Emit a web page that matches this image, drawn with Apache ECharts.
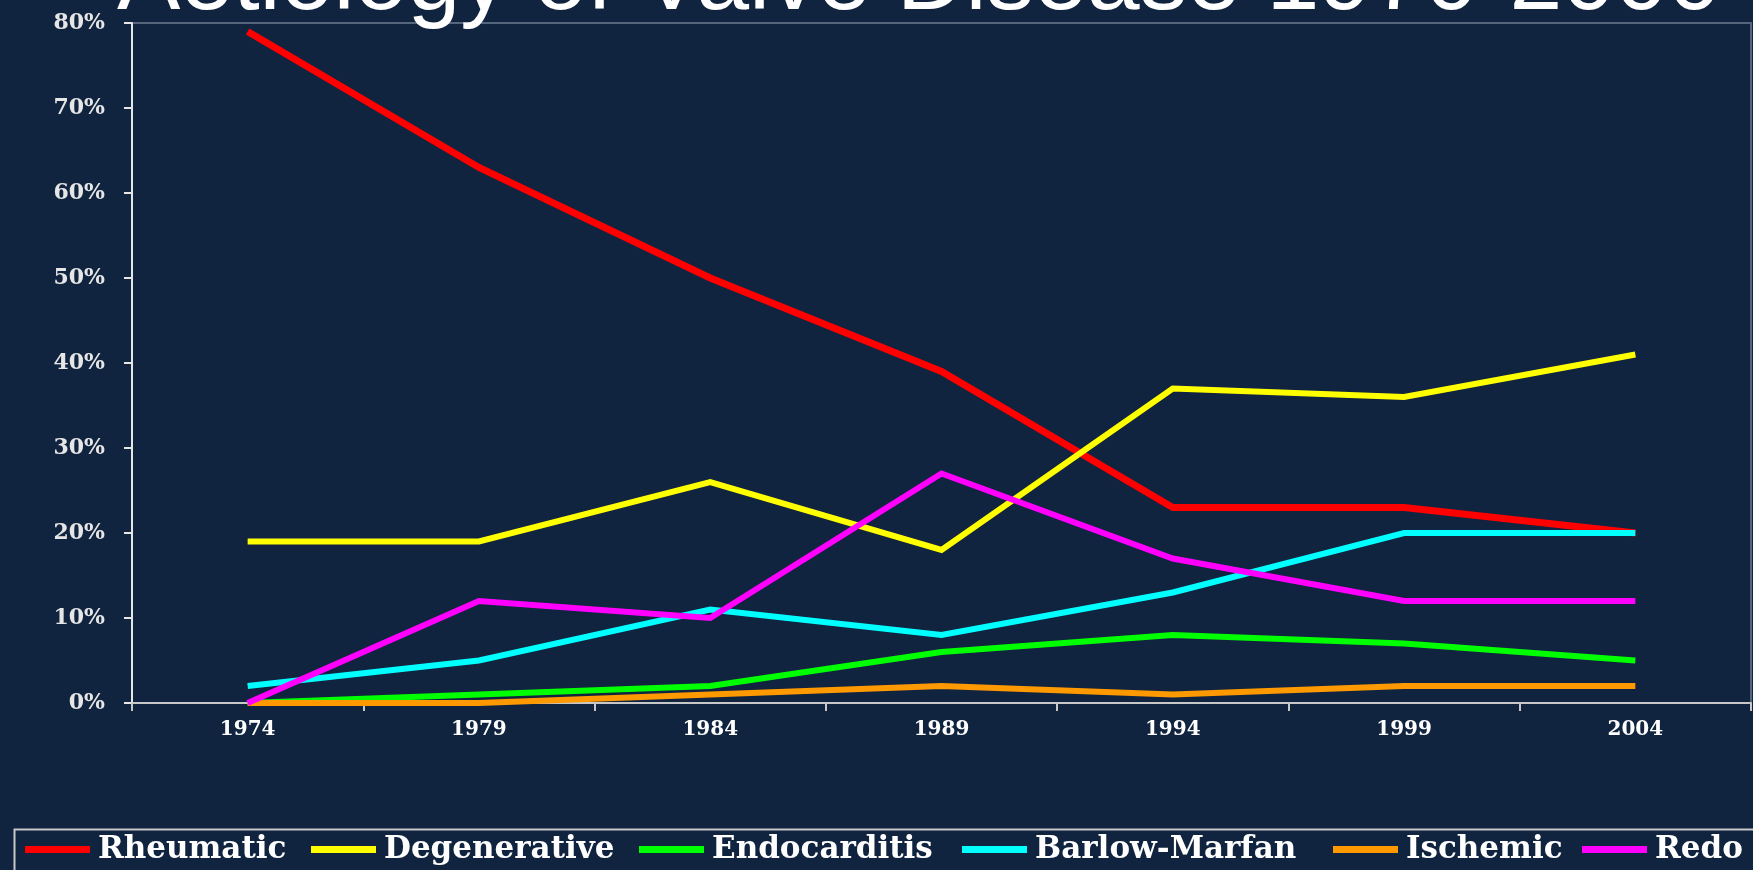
<!DOCTYPE html>
<html><head><meta charset="utf-8">
<script src="https://cdn.jsdelivr.net/npm/echarts@6/dist/echarts.min.js"></script>
<style>html,body{margin:0;padding:0;background:#10233f;}#c{width:1753px;height:870px;}</style>
</head><body><div id="c"></div>
<script>
var titleText = 'Aetiology of Valve Disease 1970-2000';
var years = ['1974','1979','1984','1989','1994','1999','2004'];
var yTicks = [0,10,20,30,40,50,60,70,80];
var seriesNames = ['Rheumatic','Degenerative','Endocarditis','Barlow-Marfan','Ischemic','Redo'];
var seriesColors = ['#ff0000','#ffff00','#00ff00','#00ffff','#ff9900','#ff00ff'];
var rheumatic    = [79, 63, 50, 39, 23, 23, 20];
var degenerative = [19, 19, 26, 18, 37, 36, 41];
var endocarditis = [0, 1, 2, 6, 8, 7, 5];
var barlowMarfan = [2, 5, 11, 8, 13, 20, 20];
var ischemic     = [0, 0, 1, 2, 1, 2, 2];
var redo         = [0, 12, 10, 27, 17, 12, 12];
var allData = [rheumatic, degenerative, endocarditis, barlowMarfan, ischemic, redo];
var legendLeft = [25, 311, 639, 962, 1333, 1582];

var chart = echarts.init(document.getElementById('c'));
var legends = seriesNames.map(function(n, i){
  return {
    data: [n], left: legendLeft[i], top: 834, orient: 'horizontal',
    icon: 'rect', itemWidth: 65, itemHeight: 7, padding: 0,
    textStyle: {color: '#ffffff', fontFamily: 'DejaVu Serif', fontWeight: 'bold', fontSize: 31, padding: [0,0,0,3]},
    selectedMode: false
  };
});
chart.setOption({
  backgroundColor: '#10233f',
  animation: false,
  title: {
    text: titleText, left: 112, top: -70,
    textStyle: {color: '#ffffff', fontFamily: 'Liberation Sans', fontWeight: 'normal', fontSize: 95}
  },
  legend: legends,
  graphic: [{
    type: 'rect', left: 12, top: 827, silent: true,
    shape: {width: 1760, height: 60},
    style: {fill: 'none', stroke: '#c8c8c8', lineWidth: 2}
  }],
  grid: {left: 132, right: 2, top: 23, bottom: 167, show: true, borderColor: '#55657c', borderWidth: 2, containLabel: false},
  xAxis: {
    type: 'category', data: years, boundaryGap: true,
    axisLine: {lineStyle: {color: '#c8c8c8', width: 2}},
    axisTick: {show: true, inside: false, length: 8, lineStyle: {color: '#c8c8c8', width: 2}},
    axisLabel: {color: '#ffffff', fontFamily: 'DejaVu Serif', fontWeight: 'bold', fontSize: 20, margin: 17},
    splitLine: {show: false}
  },
  yAxis: {
    type: 'value', min: 0, max: 80, interval: 10,
    axisLine: {show: true, lineStyle: {color: '#e6e6e6', width: 2}},
    axisTick: {show: true, inside: false, length: 8, lineStyle: {color: '#e6e6e6', width: 2}},
    axisLabel: {color: '#e6e6e6', fontFamily: 'DejaVu Serif', fontWeight: 'bold', fontSize: 22, margin: 27,
      formatter: function(v){ return v + '%'; }},
    splitLine: {show: false}
  },
  series: seriesNames.map(function(n, i){
    return {
      name: n, type: 'line', data: allData[i], symbol: 'none',
      itemStyle: {color: seriesColors[i]},
      lineStyle: {color: seriesColors[i], width: i === 0 ? 7 : 6, join: 'miter'}
    };
  })
});
</script></body></html>
